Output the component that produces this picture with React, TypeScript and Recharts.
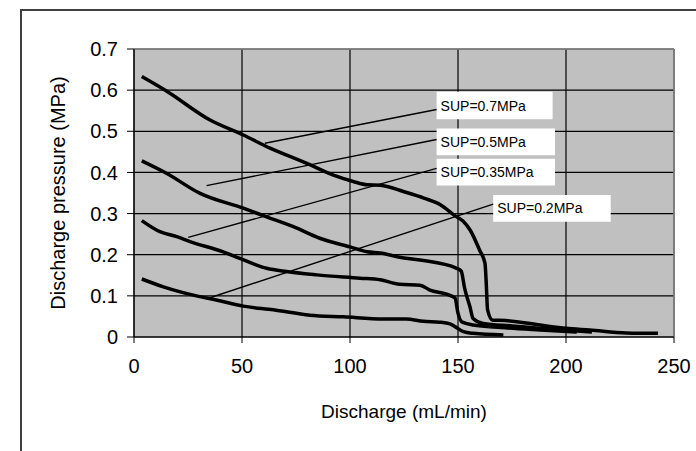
import {
	LineChart,
	Line,
	XAxis,
	YAxis,
	CartesianGrid,
	ReferenceLine,
	ReferenceArea,
} from 'recharts';

// Discharge (mL/min) / discharge pressure (MPa) per supply pressure
const sup07X = [3.6, 15, 35, 50.6, 63, 80, 92, 101.5, 108, 114, 125, 134.5, 142, 148.5, 152.3, 155.6, 160, 162.5, 163, 163.7, 166, 172, 188, 200, 211, 228, 242.6];
const sup07Y = [0.633, 0.598, 0.528, 0.491, 0.459, 0.422, 0.394, 0.378, 0.37, 0.369, 0.353, 0.337, 0.321, 0.295, 0.282, 0.26, 0.211, 0.179, 0.139, 0.066, 0.041, 0.04, 0.029, 0.021, 0.017, 0.01, 0.009];

const sup05X = [3.6, 15, 30.6, 50.6, 61.4, 73.8, 86, 100, 108, 114, 123, 132.4, 149.4, 151.5, 153, 155.5, 157, 161.6, 175, 190, 212];
const sup05Y = [0.428, 0.398, 0.349, 0.313, 0.292, 0.268, 0.24, 0.219, 0.207, 0.204, 0.194, 0.187, 0.167, 0.16, 0.12, 0.074, 0.045, 0.033, 0.027, 0.02, 0.012];

const sup035X = [3.6, 12, 19.8, 25.9, 41.3, 49, 61.4, 70.6, 84.6, 104.6, 114, 123, 132.4, 137, 144.7, 148.6, 150, 151.7, 157, 170, 188, 205];
const sup035Y = [0.283, 0.256, 0.244, 0.232, 0.207, 0.191, 0.167, 0.159, 0.151, 0.143, 0.139, 0.128, 0.126, 0.114, 0.104, 0.095, 0.058, 0.037, 0.029, 0.023, 0.017, 0.012];

const sup02X = [3.6, 13.6, 28.9, 38.1, 50.6, 64.5, 81.5, 96.9, 115.4, 126, 134, 141.5, 146.3, 149, 152.5, 157, 171];
const sup02Y = [0.141, 0.122, 0.1, 0.09, 0.075, 0.066, 0.053, 0.049, 0.044, 0.044, 0.038, 0.036, 0.032, 0.024, 0.013, 0.009, 0.005];

const xTicks = [0, 50, 100, 150, 200, 250];
const yTicks = [0, 0.1, 0.2, 0.3, 0.4, 0.5, 0.6, 0.7];

// label boxes and leader lines (data units)
const labels = ['SUP=0.7MPa', 'SUP=0.5MPa', 'SUP=0.35MPa', 'SUP=0.2MPa'];
const labelBoxX = [[140.1, 193.8], [140.1, 194.9], [140.1, 194.9], [166.3, 220.7]];
const labelBoxY = [[0.529, 0.596], [0.442, 0.507], [0.368, 0.433], [0.28, 0.345]];
const leaderFrom = [[60.6, 0.471], [33.6, 0.368], [25.1, 0.242], [35.5, 0.096]];
const leaderTo = [[140.1, 0.553], [140.1, 0.48], [140.1, 0.41], [166.3, 0.323]];

const toPoints = (xs: number[], ys: number[]) => xs.map((x, i) => ({ x, y: ys[i] }));

const series = [
	toPoints(sup07X, sup07Y),
	toPoints(sup05X, sup05Y),
	toPoints(sup035X, sup035Y),
	toPoints(sup02X, sup02Y),
];

const font = '"Liberation Sans", Arial, sans-serif';

export default function App() {
	return (
		<div
			style={{
				position: 'absolute',
				left: 0,
				top: 0,
				width: 696,
				height: 451,
				overflow: 'hidden',
				background: '#fff',
				fontFamily: font,
			}}
		>
			<div
				style={{
					position: 'absolute',
					left: 20,
					top: 9,
					width: 800,
					height: 600,
					borderLeft: '2px solid #404040',
					borderTop: '2px solid #404040',
				}}
			/>
			<div style={{ position: 'absolute', left: 0, top: 0 }}>
				<LineChart
					width={696}
					height={451}
					margin={{ top: 49, right: 22, left: 0, bottom: 0 }}
				>
					<CartesianGrid fill="#C0C0C0" stroke="#000" strokeWidth={1.2} />
					<XAxis
						type="number"
						dataKey="x"
						domain={[0, 250]}
						ticks={xTicks}
						height={114}
						stroke="#000"
						tickSize={6}
						tickMargin={16}
						tick={{ fill: '#000', fontSize: 20, fontFamily: font }}
						allowDataOverflow
						label={() => (
							<text
								x={404}
								y={411}
								textAnchor="middle"
								dominantBaseline="central"
								fontSize={19}
								fontFamily={font}
								fill="#000"
							>
								Discharge (mL/min)
							</text>
						)}
					/>
					<YAxis
						type="number"
						domain={[0, 0.7]}
						ticks={yTicks}
						width={134}
						stroke="#000"
						tickSize={7}
						tickMargin={9}
						tick={{ fill: '#000', fontSize: 20, fontFamily: font }}
						allowDataOverflow
						label={() => (
							<text
								x={58}
								y={193}
								transform="rotate(-90, 58, 193)"
								textAnchor="middle"
								dominantBaseline="central"
								fontSize={20}
								fontFamily={font}
								fill="#000"
							>
								Discharge pressure (MPa)
							</text>
						)}
					/>
					<ReferenceLine y={0.7} stroke="#888" strokeWidth={1.5} />
					<ReferenceLine x={250} stroke="#888" strokeWidth={1.5} />
					{labels.map((text, i) => (
						<ReferenceLine
							key={'l' + i}
							segment={[
								{ x: leaderFrom[i][0], y: leaderFrom[i][1] },
								{ x: leaderTo[i][0], y: leaderTo[i][1] },
							]}
							stroke="#000"
							strokeWidth={1.4}
						/>
					))}
					{labels.map((text, i) => (
						<ReferenceArea
							key={'a' + i}
							x1={labelBoxX[i][0]}
							x2={labelBoxX[i][1]}
							y1={labelBoxY[i][0]}
							y2={labelBoxY[i][1]}
							fill="#fff"
							fillOpacity={1}
							stroke="none"
							label={{
								value: text,
								position: 'insideLeft',
								offset: 4,
								fill: '#000',
								fontSize: 14,
								fontFamily: font,
							}}
						/>
					))}
					{series.map((data, i) => (
						<Line
							key={'s' + i}
							data={data}
							dataKey="y"
							type="monotone"
							stroke="#000"
							strokeWidth={3.5}
							dot={false}
							activeDot={false}
							isAnimationActive={false}
						/>
					))}
				</LineChart>
			</div>
		</div>
	);
}
